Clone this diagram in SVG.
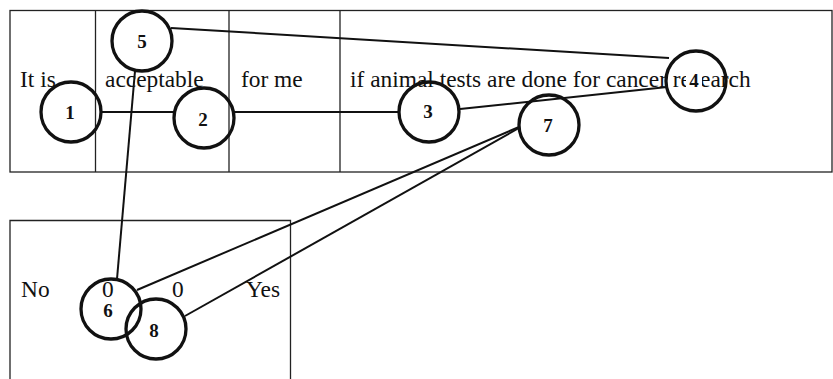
<svg xmlns="http://www.w3.org/2000/svg" width="833" height="379" viewBox="0 0 833 379">
<style>
.box{fill:none;stroke:#222;stroke-width:1.3}
.t{font-family:"Liberation Serif","Times New Roman",serif;font-size:23.4px;fill:#111}
.n{font-family:"Liberation Serif","Times New Roman",serif;font-size:19px;font-weight:bold;fill:#111;text-anchor:middle}
.c{fill:none;stroke:#111;stroke-width:3.3}
.e{stroke:#111;stroke-width:2;fill:none}
</style>
<rect width="833" height="379" fill="#fff"/>
<g id="table-top">
<rect class="box" x="10" y="10.5" width="822" height="161.5"/>
<line class="box" x1="95.5" y1="10.5" x2="95.5" y2="172"/>
<line class="box" x1="229" y1="10.5" x2="229" y2="172"/>
<line class="box" x1="340" y1="10.5" x2="340" y2="172"/>
<text class="t" x="20" y="87">It is</text>
<text class="t" x="105" y="87">acceptable</text>
<text class="t" x="241" y="87">for me</text>
<text class="t" x="350" y="87">if animal tests are done for cancer research</text>
</g>
<g id="table-bottom">
<path class="box" d="M10,380 V220.5 H290.5 V380"/>
<text class="t" x="21" y="297">No</text>
<text class="t" x="102" y="297">0</text>
<text class="t" x="172" y="297">0</text>
<text class="t" x="246" y="297">Yes</text>
</g>
<g id="connectors">
<line class="e" x1="101" y1="112" x2="174" y2="112"/>
<line class="e" x1="234" y1="112" x2="399" y2="112"/>
<line class="e" x1="171" y1="28" x2="669" y2="58"/>
<line class="e" x1="460" y1="109" x2="667" y2="87"/>
<line class="e" x1="135" y1="71" x2="117" y2="279"/>
<line class="e" x1="519" y1="127" x2="137" y2="290"/>
<line class="e" x1="519" y1="128" x2="185" y2="316"/>
</g>
<g id="node1"><circle class="c" cx="71" cy="112" r="30"/><text class="n" x="70" y="119">1</text></g>
<g id="node2"><circle class="c" cx="204" cy="118" r="30"/><text class="n" x="203" y="126">2</text></g>
<g id="node3"><circle class="c" cx="429" cy="112" r="30"/><text class="n" x="428" y="118">3</text></g>
<g id="node4"><rect x="686" y="68" width="16" height="24" fill="#fff"/><circle class="c" cx="696" cy="81" r="30"/><text class="n" x="694" y="87">4</text></g>
<g id="node5"><circle class="c" cx="142" cy="41" r="30"/><text class="n" x="142" y="48">5</text></g>
<g id="node6"><circle class="c" cx="111" cy="309" r="30"/><text class="n" x="108" y="317">6</text></g>
<g id="node7"><circle class="c" cx="549" cy="125" r="30"/><text class="n" x="548" y="132">7</text></g>
<g id="node8"><circle class="c" cx="156" cy="329" r="30"/><text class="n" x="154" y="337">8</text></g>
</svg>
